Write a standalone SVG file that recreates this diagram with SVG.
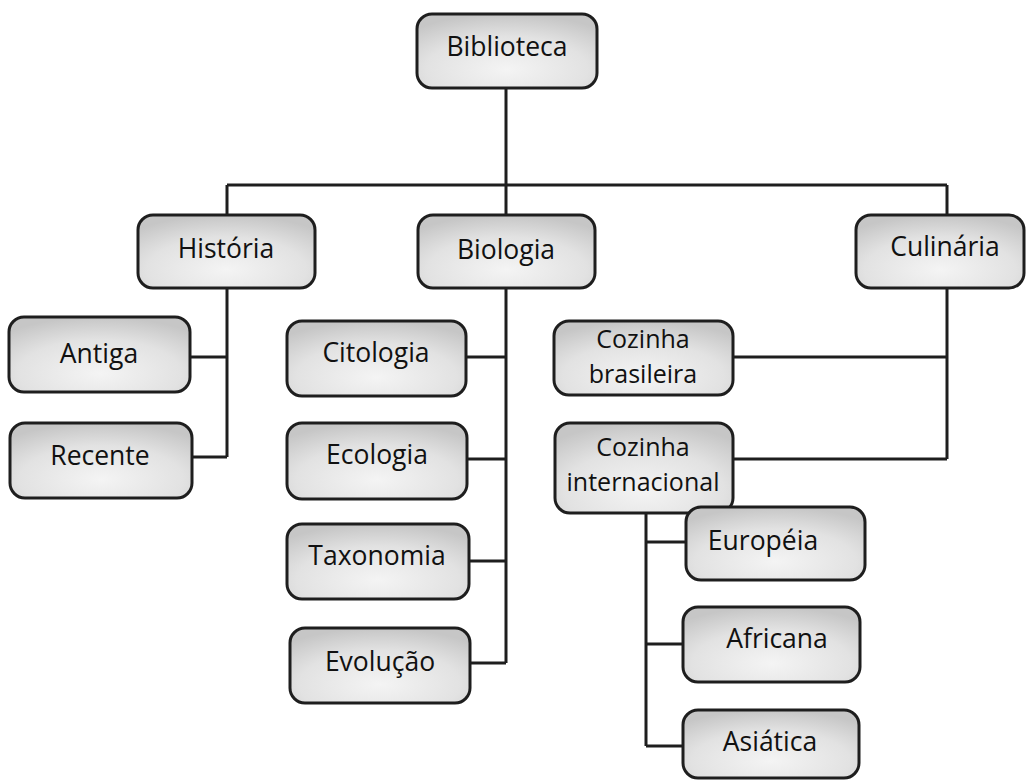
<svg xmlns="http://www.w3.org/2000/svg" width="1026" height="781" viewBox="0 0 1026 781">
<style>
.box{fill:url(#g);stroke:#1e1e1e;stroke-width:3}
.t{font-family:"Open Sans","Noto Sans",sans-serif;font-size:26.5px;fill:#111;text-anchor:middle}
.t2{font-size:25px}
.c{fill:none;stroke:#1e1e1e;stroke-width:3}
</style>
<defs>
<radialGradient id="g" cx="0.5" cy="0.75" r="0.75">
<stop offset="0" stop-color="#f4f4f4"/>
<stop offset="0.6" stop-color="#e2e2e2"/>
<stop offset="1" stop-color="#c6c6c6"/>
</radialGradient>
</defs>
<rect width="1026" height="781" fill="#fff"/>
<g id="connectors" class="c">
<path d="M506,88V185M227,185H947M227,185V215M506,185V215M947,185V215"/>
<path d="M227,288V457M190,357H227M192,457H227"/>
<path d="M506,288V663M466,357H506M467,459H506M469,561H506M470,663H506"/>
<path d="M947,288V459M733,357H947M733,459H947"/>
<path d="M646,513V746M646,542H686M646,644H683M646,746H683"/>
</g>
<g id="biblioteca"><rect class="box" x="417" y="14" width="180" height="74" rx="15"/><text class="t" x="507" y="56">Biblioteca</text></g>
<g id="historia"><rect class="box" x="138" y="215" width="177" height="73" rx="15"/><text class="t" x="226" y="258">História</text></g>
<g id="biologia"><rect class="box" x="418" y="215" width="177" height="73" rx="15"/><text class="t" x="506" y="259">Biologia</text></g>
<g id="culinaria"><rect class="box" x="856" y="215" width="168" height="73" rx="15"/><text class="t" x="945" y="256">Culinária</text></g>
<g id="antiga"><rect class="box" x="9" y="317" width="181" height="75" rx="15"/><text class="t" x="99" y="363">Antiga</text></g>
<g id="recente"><rect class="box" x="10" y="423" width="182" height="75" rx="15"/><text class="t" x="100" y="465">Recente</text></g>
<g id="citologia"><rect class="box" x="287" y="321" width="179" height="75" rx="15"/><text class="t" x="376" y="362">Citologia</text></g>
<g id="ecologia"><rect class="box" x="287" y="423" width="180" height="76" rx="15"/><text class="t" x="377" y="464">Ecologia</text></g>
<g id="taxonomia"><rect class="box" x="287" y="524" width="182" height="75" rx="15"/><text class="t" x="377" y="565">Taxonomia</text></g>
<g id="evolucao"><rect class="box" x="290" y="628" width="180" height="75" rx="15"/><text class="t" x="380" y="671">Evolução</text></g>
<g id="cozinha-brasileira"><rect class="box" x="554" y="321" width="179" height="74" rx="15"/><text class="t t2" x="643" y="348">Cozinha</text><text class="t t2" x="643" y="383">brasileira</text></g>
<g id="cozinha-internacional"><rect class="box" x="555" y="423" width="178" height="90" rx="15"/><text class="t t2" x="643" y="456">Cozinha</text><text class="t t2" x="643" y="491">internacional</text></g>
<g id="europeia"><rect class="box" x="686" y="507" width="179" height="73" rx="15"/><text class="t" x="763" y="550">Européia</text></g>
<g id="africana"><rect class="box" x="683" y="607" width="177" height="75" rx="15"/><text class="t" x="777" y="648">Africana</text></g>
<g id="asiatica"><rect class="box" x="683" y="710" width="176" height="68" rx="15"/><text class="t" x="770" y="751">Asiática</text></g>
</svg>
